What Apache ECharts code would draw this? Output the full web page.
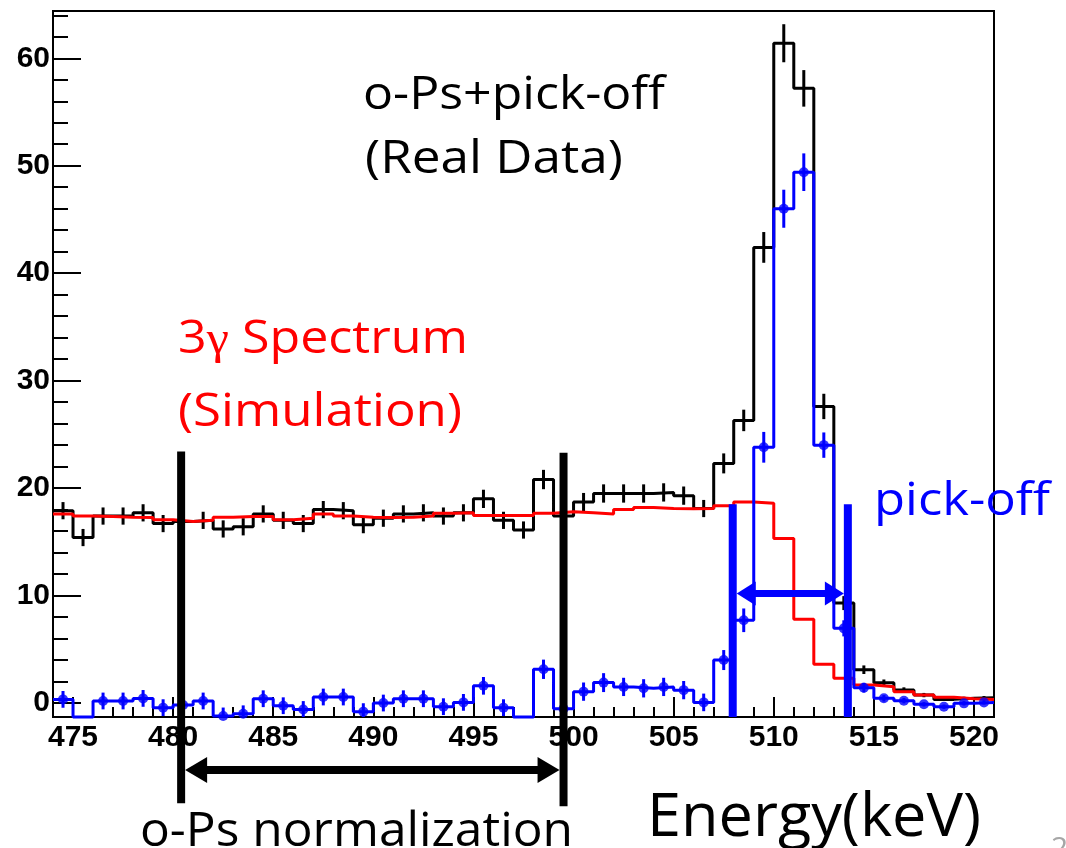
<!DOCTYPE html>
<html>
<head>
<meta charset="utf-8">
<script src="https://cdn.jsdelivr.net/npm/echarts@6/dist/echarts.min.js"></script>
<style>
html,body{margin:0;padding:0;background:#ffffff;}
#chart{width:1066px;height:848px;}
</style>
</head>
<body>
<div id="chart"></div>
<script>
// ---------------- data ----------------
const energyBins = [474.5,475.5,476.5,477.5,478.5,479.5,480.5,481.5,482.5,483.5,
  484.5,485.5,486.5,487.5,488.5,489.5,490.5,491.5,492.5,493.5,
  494.5,495.5,496.5,497.5,498.5,499.5,500.5,501.5,502.5,503.5,
  504.5,505.5,506.5,507.5,508.5,509.5,510.5,511.5,512.5,513.5,
  514.5,515.5,516.5,517.5,518.5,519.5,520.5];

// o-Ps + pick-off, real data (black)
const realData = [17.9,15.4,17.4,17.4,17.7,16.7,16.9,17.0,16.2,16.4,
  17.6,17.0,16.7,18.0,17.9,16.6,17.2,17.6,17.7,17.4,
  17.7,19.0,17.0,16.1,20.8,17.4,18.7,19.5,19.5,19.5,
  19.6,19.3,18.1,22.3,26.3,42.4,61.4,57.2,27.6,9.3,
  3.1,1.89,1.21,0.74,0.34,0.44,0.5];
const realErr = [0.8,0.8,0.8,0.8,0.8,0.8,0.8,0.8,0.8,0.8,
  0.8,0.8,0.8,0.8,0.8,0.8,0.8,0.8,0.8,0.8,
  0.8,0.85,0.8,0.8,0.9,0.8,0.85,0.85,0.85,0.85,
  0.85,0.85,0.8,0.93,1.0,1.43,1.77,1.7,1.18,0.65,
  0.4,0.3,0.25,0.2,0.15,0.15,0.15];

// 3-gamma spectrum, simulation (red)
const simulation = [17.6,17.4,17.36,17.3,17.27,17.05,16.9,17.0,17.3,17.36,
  17.36,17.05,17.2,17.6,17.4,17.3,17.27,17.3,17.4,17.67,
  17.7,17.45,17.45,17.45,17.67,17.8,17.7,17.6,18.0,18.2,
  18.1,18.07,18.1,18.35,18.7,18.6,15.3,7.8,3.6,2.3,
  1.68,1.52,1.05,0.74,0.53,0.4,0.34];

// pick-off (blue) = data - simulation
const pickOff = [0.34,-2.0,0.19,0.19,0.43,-0.43,-0.19,0.19,-1.2,-1.0,
  0.4,-0.25,-0.6,0.56,0.56,-0.8,0.0,0.4,0.4,-0.34,
  0.06,1.6,-0.43,-2.0,3.14,-0.53,1.06,1.9,1.5,1.37,
  1.5,1.2,0.06,4.0,7.7,23.8,46.0,49.4,24.0,6.95,
  1.43,0.44,0.22,-0.12,-0.34,-0.03,0.06];
const pickOffErr = [0.78,0.78,0.78,0.78,0.78,0.78,0.78,0.78,0.78,0.78,
  0.78,0.78,0.78,0.78,0.78,0.78,0.78,0.78,0.78,0.78,
  0.78,0.82,0.78,0.78,0.9,0.78,0.85,0.88,0.85,0.85,
  0.85,0.85,0.82,0.93,1.1,1.43,1.77,1.75,1.18,0.75,
  0.45,0.3,0.25,0.2,0.2,0.2,0.2];

// axis tick labels
const xTickLabels = [475,480,485,490,495,500,505,510,515,520];
const yTickLabels = [0,10,20,30,40,50,60];

// annotation ranges (keV)
const normRange = [480.4, 499.5];
const pickOffRange = [507.95, 513.7];

// ---------------- layout / style ----------------
const X_MIN = 474, X_MAX = 521, Y_MIN = -1.3, Y_MAX = 64.4, BIN_W = 1;

const xMinorTicks = [], yMinorTicks = [];
for (let v = X_MIN; v <= X_MAX; v++) if (xTickLabels.indexOf(v) < 0) xMinorTicks.push(v);
for (let v = 2; v <= Y_MAX; v += 2) if (yTickLabels.indexOf(v) < 0) yMinorTicks.push(v);

function histPoints(vals) {
  const pts = energyBins.map((c, i) => [c - BIN_W / 2, Math.max(vals[i], Y_MIN)]);
  const last = energyBins.length - 1;
  pts.push([energyBins[last] + BIN_W / 2, Math.max(vals[last], Y_MIN)]);
  return pts;
}
function histSeries(vals, color, z) {
  return {
    type: 'line', step: 'end', data: histPoints(vals), symbol: 'none', clip: false,
    lineStyle: { color: color, width: 3 }, z: z, silent: true
  };
}
function errSeries(vals, errs, color, z) {
  const d = [];
  energyBins.forEach((c, i) => { if (vals[i] >= Y_MIN && vals[i] <= Y_MAX) d.push([c, vals[i], errs[i]]); });
  return {
    type: 'custom', z: z, silent: true, clip: false, data: d, encode: { x: 0, y: 1 },
    renderItem: function (params, api) {
      const x = api.value(0), y = api.value(1), e = api.value(2);
      const a = api.coord([x, Math.max(y - e, Y_MIN)]);
      const b = api.coord([x, Math.min(y + e, Y_MAX)]);
      return { type: 'line', shape: { x1: a[0], y1: a[1], x2: b[0], y2: b[1] },
        style: { stroke: color, lineWidth: 3 } };
    }
  };
}

const tickLabelStyle = { color: '#000', fontFamily: 'Liberation Sans', fontWeight: 'bold', fontSize: 30 };

const option = {
  animation: false,
  backgroundColor: '#ffffff',
  grid: { left: 53, right: 72, top: 11, bottom: 131, show: true, borderColor: '#000', borderWidth: 2, backgroundColor: 'transparent' },
  xAxis: [
    { type: 'value', min: X_MIN, max: X_MAX, position: 'bottom',
      axisLine: { show: true, onZero: false, lineStyle: { color: '#000', width: 2 } },
      axisTick: { show: true, inside: true, length: 20, customValues: xTickLabels, lineStyle: { color: '#000', width: 2 } },
      axisLabel: Object.assign({ customValues: xTickLabels, margin: 6 }, tickLabelStyle),
      splitLine: { show: false } },
    { type: 'value', min: X_MIN, max: X_MAX, position: 'bottom',
      axisLine: { show: false, onZero: false },
      axisTick: { show: true, inside: true, length: 10, customValues: xMinorTicks, lineStyle: { color: '#000', width: 2 } },
      axisLabel: { show: false }, splitLine: { show: false } }
  ],
  yAxis: [
    { type: 'value', min: Y_MIN, max: Y_MAX, position: 'left',
      axisLine: { show: true, onZero: false, lineStyle: { color: '#000', width: 2 } },
      axisTick: { show: true, inside: true, length: 28, customValues: yTickLabels, lineStyle: { color: '#000', width: 2 } },
      axisLabel: Object.assign({ customValues: yTickLabels, margin: 3 }, tickLabelStyle),
      splitLine: { show: false } },
    { type: 'value', min: Y_MIN, max: Y_MAX, position: 'left',
      axisLine: { show: false, onZero: false },
      axisTick: { show: true, inside: true, length: 15, customValues: yMinorTicks, lineStyle: { color: '#000', width: 2 } },
      axisLabel: { show: false }, splitLine: { show: false } }
  ],
  series: [
    histSeries(realData, '#000000', 2),
    errSeries(realData, realErr, '#000000', 3),
    histSeries(simulation, '#ff0000', 4),
    histSeries(pickOff, '#0000ff', 5),
    errSeries(pickOff, pickOffErr, '#0000ff', 6),
    { type: 'scatter', z: 7, silent: true, symbol: 'circle', symbolSize: 10,
      itemStyle: { color: '#0000ff' },
      data: energyBins.map((c, i) => [c, pickOff[i]]).filter(d => d[1] >= Y_MIN && d[1] <= Y_MAX) },
    { type: 'custom', z: 10, silent: true, clip: false,
      data: [[normRange[0], 0]], encode: { x: 0, y: 1 },
      renderItem: function (params, api) {
        const ch = [];
        function bar(xv, top, bottom, w, color) {
          const a = api.coord([xv, top]), b = api.coord([xv, bottom]);
          ch.push({ type: 'rect', shape: { x: a[0] - w / 2, y: a[1], width: w, height: b[1] - a[1] }, style: { fill: color } });
        }
        function arrow(x1v, x2v, yv, inset, shaft, hl, hh, color) {
          const a = api.coord([x1v, yv]), b = api.coord([x2v, yv]);
          const xa = a[0] + inset, xb = b[0] - inset, y = a[1];
          ch.push({ type: 'rect', shape: { x: xa + hl - 1, y: y - shaft / 2, width: xb - xa - 2 * hl + 2, height: shaft }, style: { fill: color } });
          ch.push({ type: 'polygon', shape: { points: [[xa, y], [xa + hl, y - hh], [xa + hl, y + hh]] }, style: { fill: color } });
          ch.push({ type: 'polygon', shape: { points: [[xb, y], [xb - hl, y - hh], [xb - hl, y + hh]] }, style: { fill: color } });
        }
        bar(normRange[0], 23.4, -9.33, 8, '#000');
        bar(normRange[1], 23.3, -9.6, 8, '#000');
        arrow(normRange[0], normRange[1], -6.23, 4, 8, 22, 13, '#000');
        bar(pickOffRange[0], 18.5, Y_MIN, 8, '#0000ff');
        bar(pickOffRange[1], 18.5, Y_MIN, 8, '#0000ff');
        arrow(pickOffRange[0], pickOffRange[1], 10.2, 4, 7, 19, 12, '#0000ff');
        return { type: 'group', children: ch };
      } }
  ]
};

// ---------------- text annotations ----------------
const textFont = 'Open Sans';
const greekFont = 'Liberation Serif';
const labels = [
  { parts: ['o-Ps+pick-off'], left: 363, baseline: 109, width: 302, size: 46, color: '#000000' },
  { parts: ['(Real Data)'], left: 365, baseline: 173, width: 258, size: 46, color: '#000000' },
  { parts: ['3', '\u03b3', ' Spectrum'], left: 178, baseline: 353, width: 290, size: 46, color: '#ff0000' },
  { parts: ['(Simulation)'], left: 178, baseline: 426, width: 284, size: 46, color: '#ff0000' },
  { parts: ['pick-off'], left: 874, baseline: 515, width: 176, size: 46, color: '#0000ff' },
  { parts: ['Energy(keV)'], left: 647, baseline: 836, width: 334, size: 60, color: '#000000' },
  { parts: ['o-Ps normalization'], left: 140, baseline: 846, width: 433, size: 48, color: '#000000' },
  { parts: ['2'], left: 1051, baseline: 858, width: 0, size: 30, color: '#a6a6a6' }
];
const ctx = document.createElement('canvas').getContext('2d');
function fontOf(part) { return /[\u0370-\u03ff]/.test(part) ? greekFont : textFont; }
function measure(t, size, fam) {
  ctx.font = size + 'px "' + fam + '"';
  ctx.textBaseline = 'alphabetic';
  const m1 = ctx.measureText(t);
  ctx.textBaseline = 'middle';
  const m2 = ctx.measureText(t);
  return { w: m1.width, off: m1.actualBoundingBoxAscent - m2.actualBoundingBoxAscent };
}
const graphics = [];
labels.forEach(function (l) {
  const ms = l.parts.map(p => measure(p, l.size, fontOf(p)));
  const total = ms.reduce((s, m) => s + m.w, 0);
  const sx = l.width ? l.width / total : 1;
  let cx = l.left;
  l.parts.forEach(function (p, i) {
    graphics.push({
      type: 'text', silent: true, z: 20,
      x: cx, y: l.baseline - ms[i].off, scaleX: sx,
      style: { text: p, fontFamily: fontOf(p), fontSize: l.size, fill: l.color, align: 'left', verticalAlign: 'middle', x: 0, y: 0 }
    });
    cx += ms[i].w * sx;
  });
});
option.graphic = graphics;

const chart = echarts.init(document.getElementById('chart'), null, { renderer: 'canvas' });
chart.setOption(option);
</script>
</body>
</html>
